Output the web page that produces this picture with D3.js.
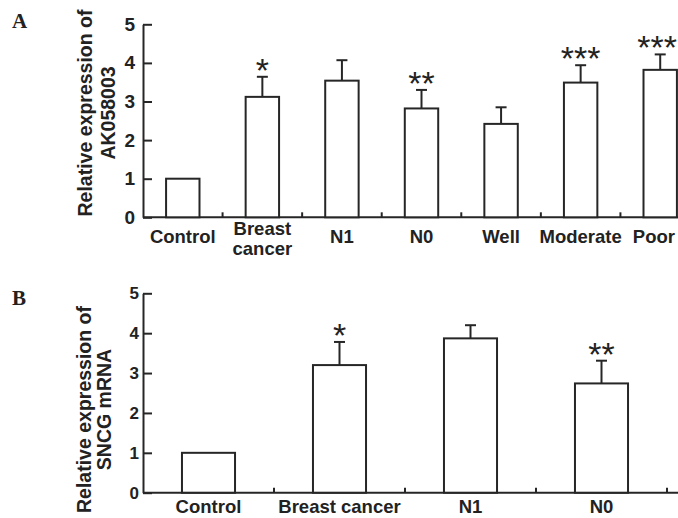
<!DOCTYPE html>
<html>
<head>
<meta charset="utf-8">
<script src="https://cdn.jsdelivr.net/npm/d3@7"></script>
<style>
  html, body { margin: 0; padding: 0; background: #fff; }
  svg { display: block; }
  text { font-family: "Liberation Sans", Arial, sans-serif; fill: #222; }
</style>
</head>
<body>
<div id="chart"></div>
<script>
// Panel A: AK058003
const catsA = ['Control', 'Breast cancer', 'N1', 'N0', 'Well', 'Moderate', 'Poor'];
const meansA = [1.0, 3.12, 3.54, 2.82, 2.42, 3.49, 3.82];
const errsA = [0, 0.52, 0.53, 0.48, 0.43, 0.45, 0.40];
const sigA = ['', '*', '', '**', '', '***', '***'];

// Panel B: SNCG mRNA
const catsB = ['Control', 'Breast cancer', 'N1', 'N0'];
const meansB = [1.0, 3.2, 3.87, 2.74];
const errsB = [0, 0.58, 0.33, 0.57];
const sigB = ['', '*', '', '**'];

const yTicks = [0, 1, 2, 3, 4, 5];

const W = 678, H = 518;
const INK = '#262626';

const svg = d3.select('#chart').append('svg').attr('width', W).attr('height', H);

// shift a text left if it would run past the right edge
const keepInside = (t, margin) => {
  const bb = t.node().getBBox();
  const over = bb.x + bb.width - (W - margin);
  if (over > 0) {
    const sel = t.selectAll('tspan').size() ? t.selectAll('tspan') : t;
    sel.attr('x', +sel.attr('x') - over);
  }
};

const drawPanel = (p) => {
  const g = svg.append('g');

  const x = d3.scaleBand().domain(p.cats).range([p.x0, p.x1]).padding(0);
  const y = d3.scaleLinear().domain([0, 5]).range([p.y0, p.y1]);
  const bw = x.bandwidth() * p.barFrac;
  const cx = c => x(c) + x.bandwidth() / 2;

  // y axis, ticks pointing inward
  const ya = g.append('g').attr('transform', `translate(${p.x0},0)`)
    .call(d3.axisLeft(y).tickValues(yTicks).tickFormat(d3.format('d'))
      .tickSizeInner(-9).tickSizeOuter(0).tickPadding(p.tickPad));
  ya.selectAll('path, line').attr('stroke', INK).attr('stroke-width', 2);
  ya.selectAll('text').attr('font-size', p.tickFont).attr('font-weight', 'bold')
    .attr('fill', '#222').style('font-family', '"Liberation Sans", Arial, sans-serif');

  // x baseline with small upward separators
  g.append('line').attr('x1', p.x0).attr('x2', W).attr('y1', y(0)).attr('y2', y(0))
    .attr('stroke', INK).attr('stroke-width', 2);
  const seps = p.cats.slice(1).map(c => x(c)).concat([p.x1]);
  g.selectAll('.sep').data(seps).enter().append('line')
    .attr('x1', d => d).attr('x2', d => d)
    .attr('y1', y(0)).attr('y2', y(0) - 5)
    .attr('stroke', INK).attr('stroke-width', 2);

  // error bars (upper only)
  p.cats.forEach((c, i) => {
    if (!p.errs[i]) return;
    const top = y(p.means[i] + p.errs[i]);
    g.append('line').attr('x1', cx(c)).attr('x2', cx(c))
      .attr('y1', y(p.means[i])).attr('y2', top)
      .attr('stroke', INK).attr('stroke-width', 2);
    g.append('line').attr('x1', cx(c) - 5.5).attr('x2', cx(c) + 5.5)
      .attr('y1', top).attr('y2', top)
      .attr('stroke', INK).attr('stroke-width', 2);
  });

  // bars
  g.selectAll('.bar').data(p.cats).enter().append('rect')
    .attr('x', c => cx(c) - bw / 2)
    .attr('y', (c, i) => y(p.means[i]))
    .attr('width', bw)
    .attr('height', (c, i) => y(0) - y(p.means[i]))
    .attr('fill', '#fff').attr('stroke', INK).attr('stroke-width', 2);

  // significance stars
  p.cats.forEach((c, i) => {
    if (!p.sigs[i]) return;
    const t = g.append('text').attr('x', cx(c)).attr('y', y(p.means[i] + p.errs[i]) + 5)
      .attr('text-anchor', 'middle').attr('font-size', 34)
      .text(p.sigs[i]);
    keepInside(t, 1);
  });

  // category labels
  p.cats.forEach(c => {
    const lines = p.wrap ? c.split(' ') : [c];
    const t = g.append('text').attr('text-anchor', 'middle')
      .attr('font-size', 18.5).attr('font-weight', 'bold');
    const base = lines.length > 1 ? p.y0 + 18 : p.y0 + p.labelGap;
    lines.forEach((ln, k) => {
      t.append('tspan').attr('x', cx(c)).attr('y', base + k * 20).text(ln);
    });
    keepInside(t, 3);
  });

  // y axis title (two lines, rotated)
  p.ylab.forEach((ln, k) => {
    g.append('text')
      .attr('transform', `translate(${p.ylabX[k]},${p.ylabY}) rotate(-90)`)
      .attr('text-anchor', 'middle').attr('dominant-baseline', 'central')
      .attr('font-size', 19.5).attr('font-weight', 'bold')
      .text(ln);
  });

  // panel letter
  svg.append('text').attr('x', 12).attr('y', p.letterY)
    .style('font-family', '"Liberation Serif", "Times New Roman", serif')
    .attr('font-size', 21).attr('font-weight', 'bold').attr('fill', '#111')
    .text(p.letter);
};

drawPanel({
  cats: catsA, means: meansA, errs: errsA, sigs: sigA,
  x0: 143, x1: 700, y0: 217.3, y1: 24.3, barFrac: 0.42,
  tickFont: 19, tickPad: 8, wrap: true, labelGap: 26,
  ylab: ['Relative expression of', 'AK058003'], ylabX: [84.5, 108], ylabY: 113,
  letter: 'A', letterY: 28
});

drawPanel({
  cats: catsB, means: meansB, errs: errsB, sigs: sigB,
  x0: 143, x1: 667, y0: 492.7, y1: 293.3, barFrac: 0.405,
  tickFont: 17, tickPad: 4, wrap: false, labelGap: 20.5,
  ylab: ['Relative expression of', 'SNCG mRNA'], ylabX: [84, 104], ylabY: 409.5,
  letter: 'B', letterY: 305
});
</script>
</body>
</html>
